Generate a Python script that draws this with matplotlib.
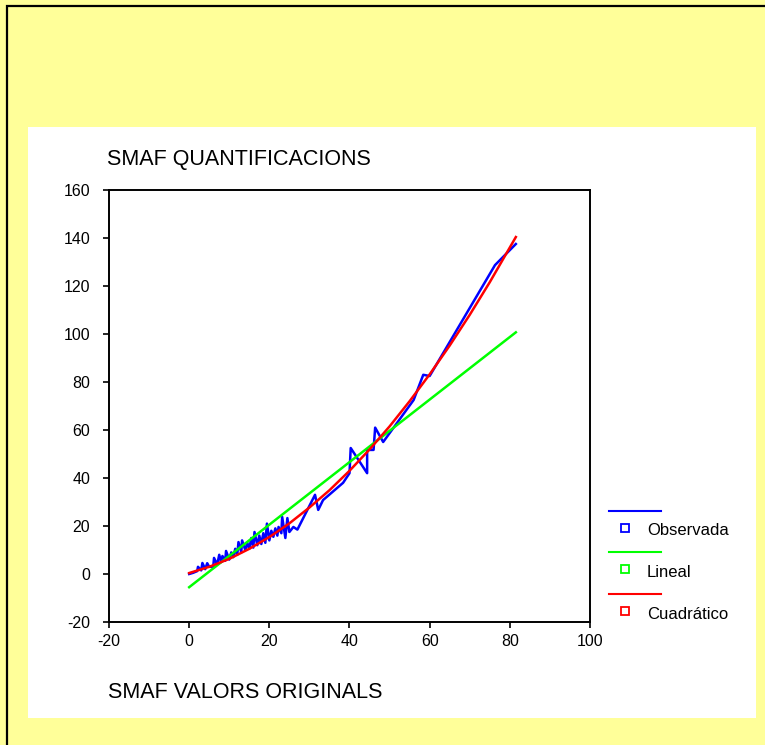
import matplotlib
matplotlib.use("Agg")
import matplotlib.pyplot as plt
from matplotlib.patches import Rectangle
from matplotlib.lines import Line2D

plt.rcParams['font.family'] = ['Liberation Sans', 'DejaVu Sans']
plt.rcParams['axes.unicode_minus'] = False

# Observed SMAF values (original score -> quantification)
x_obs = [0, 1, 2, 2.2, 3, 3.3, 4, 4.5, 5, 6, 6.2, 7, 7.5, 8, 8.3, 9, 9.2, 10, 10.5,
         11, 11.5, 12, 12.3, 13, 13.2, 14, 14.5, 15, 15.5, 16, 16.3, 17, 17.5, 18,
         18.5, 19, 19.4, 20, 20.5, 21, 21.5, 22, 22.3, 23, 23.2, 24, 24.5, 25,
         26, 27, 31.4, 32.2, 33.4, 38.4, 40, 40.3, 44.4, 44.4, 46, 46.4, 48.4, 56,
         58.4, 60, 76.3, 81.5]
y_obs = [0, 0.5, 1.2, 3.0, 1.5, 4.6, 2, 4.5, 3, 3, 6.7, 4, 8, 5, 7.5, 5.5, 9.6, 6, 9,
         7, 10.5, 8, 13.3, 9, 14, 10, 13, 10.5, 15, 11, 17.5, 12, 16, 12.5,
         17, 13, 21, 14, 18, 15.5, 19, 16, 19.6, 17, 23.8, 15, 23.3, 17.5,
         19.6, 18.5, 33, 26.7, 30.8, 38, 42, 52.5, 42, 51.7, 51.7, 61, 55, 72.5,
         83, 82.5, 128.7, 137.5]

# Linear fit values
x_lin = [0, 81.5]
y_lin = [-5.5, 100.7]

# Quadratic fit values
x_quad = [0, 5, 10, 15, 20, 25, 30, 35, 40, 45, 50, 55, 60, 65, 70, 75, 81.5]
y_quad = [0.4, 3.0, 6.3, 10.5, 15.4, 21.1, 27.7, 34.9, 43.0, 51.9, 61.5, 72.0, 83.2,
          95.2, 108.0, 121.6, 140.4]

x_ticks = [-20, 0, 20, 40, 60, 80, 100]
y_ticks = [-20, 0, 20, 40, 60, 80, 100, 120, 140, 160]

legend_labels = ["Observada", "Lineal", "Cuadrático"]
series_colors = ["#0000FF", "#00FF00", "#FF0000"]

W, H = 765, 745
fig = plt.figure(figsize=(W / 100, H / 100), dpi=100)
fig.patch.set_facecolor("#FFFF99")

# Background layer in pixel coordinates
bg = fig.add_axes([0, 0, 1, 1], zorder=0)
bg.set_xlim(0, W)
bg.set_ylim(H, 0)
bg.axis("off")
bg.add_patch(Rectangle((7, 6), W + 20, H + 20, facecolor="#FFFF99",
                       edgecolor="black", linewidth=1.6))
bg.add_patch(Rectangle((28, 127), 728, 591, facecolor="white", edgecolor="none"))

bg.text(107, 159, "SMAF QUANTIFICACIONS", fontsize=15.5, ha="left", va="center")
bg.text(108, 693, "SMAF VALORS ORIGINALS", fontsize=15.5, ha="left", va="center")

# Legend
leg_rows = [510.5, 552.3, 594.3]
for row, lab, col in zip(leg_rows, legend_labels, series_colors):
    bg.add_line(Line2D([609, 661], [row, row], color=col, linewidth=1.5))
    bg.plot([625], [row + 17], marker="s", markersize=5.5, markerfacecolor="none",
            markeredgecolor=col, markeredgewidth=1.3, linestyle="none")
    bg.text(647, row + 20, lab, fontsize=12, ha="left", va="center")

# Main plot
ax = fig.add_axes([109 / W, 1 - 622 / H, 481 / W, 432 / H], zorder=1)
ax.set_facecolor("none")
ax.plot(x_obs, y_obs, color=series_colors[0], linewidth=1.8)
ax.plot(x_lin, y_lin, color=series_colors[1], linewidth=1.8)
ax.plot(x_quad, y_quad, color=series_colors[2], linewidth=1.8)

ax.set_xlim(-20, 100)
ax.set_ylim(-20, 160)
ax.set_xticks(x_ticks)
ax.set_yticks(y_ticks)
ax.tick_params(direction="out", length=4.5, width=1.2, labelsize=11.5)
ax.tick_params(axis="y", pad=9)
ax.tick_params(axis="x", pad=4)
for s in ax.spines.values():
    s.set_linewidth(1.4)

fig.savefig("out.png", dpi=100, facecolor=fig.get_facecolor())
